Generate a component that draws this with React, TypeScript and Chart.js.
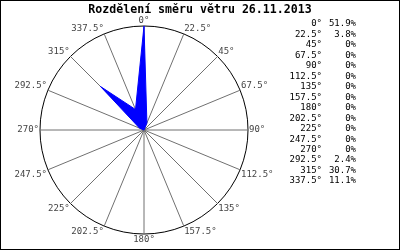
import React, { useEffect, useRef } from "react";
import { Chart, registerables } from "chart.js";

Chart.register(...registerables);

const directions = ["0°", "22.5°", "45°", "67.5°", "90°", "112.5°", "135°", "157.5°", "180°", "202.5°", "225°", "247.5°", "270°", "292.5°", "315°", "337.5°"];
const shares = [51.9, 3.8, 0, 0, 0, 0, 0, 0, 0, 0, 0, 0, 0, 2.4, 30.7, 11.1];
const titleText = "Rozdělení směru větru 26.11.2013";

const pctText = (v: number) => (v === 0 ? "0%" : v.toFixed(1) + "%");

const decorPlugin = {
  id: "decor",
  afterDraw(chart: any) {
    const ctx = chart.ctx as CanvasRenderingContext2D;
    ctx.save();
    ctx.fillStyle = "#000";
    ctx.font = 'bold 11.6px "DejaVu Sans Mono"';
    ctx.textAlign = "center";
    ctx.textBaseline = "middle";
    ctx.fillText(titleText, 200, 10);
    ctx.font = '9px "DejaVu Sans Mono"';
    const step = 10.47;
    directions.forEach((d, i) => {
      const y = 24 + i * step;
      ctx.textAlign = "right";
      ctx.fillText(d, 322, y);
      ctx.fillText(pctText(shares[i]), 356, y);
    });
    ctx.strokeStyle = "#000";
    ctx.lineWidth = 1;
    ctx.strokeRect(0.5, 0.5, 399, 249);
    ctx.restore();
  },
};

export default function App() {
  const ref = useRef<HTMLCanvasElement>(null);
  useEffect(() => {
    document.body.style.margin = "0";
    const maxVal = Math.max(...shares);
    const chart = new Chart(ref.current!, {
      type: "radar",
      data: {
        labels: directions,
        datasets: [
          {
            data: shares,
            backgroundColor: "#0000ff",
            borderColor: "#0000ff",
            borderWidth: 1,
            fill: true,
            pointRadius: 0,
            tension: 0,
          },
        ],
      },
      options: {
        animation: false,
        responsive: false,
        devicePixelRatio: 1,
        layout: { padding: { left: 13, right: 123, top: 16, bottom: 6 } },
        plugins: { legend: { display: false }, tooltip: { enabled: false }, title: { display: false } },
        scales: {
          r: {
            min: 0,
            max: maxVal,
            ticks: { display: false, stepSize: maxVal },
            grid: { circular: true, color: "#000", lineWidth: 1 },
            angleLines: { color: "#707070", lineWidth: 1 },
            pointLabels: {
              color: "#444",
              padding: 1,
              font: { family: "DejaVu Sans Mono", size: 9, lineHeight: 1 },
            },
          },
        },
      },
      plugins: [decorPlugin],
    });
    return () => chart.destroy();
  }, []);
  return <canvas ref={ref} width={400} height={250} style={{ display: "block" }} />;
}
